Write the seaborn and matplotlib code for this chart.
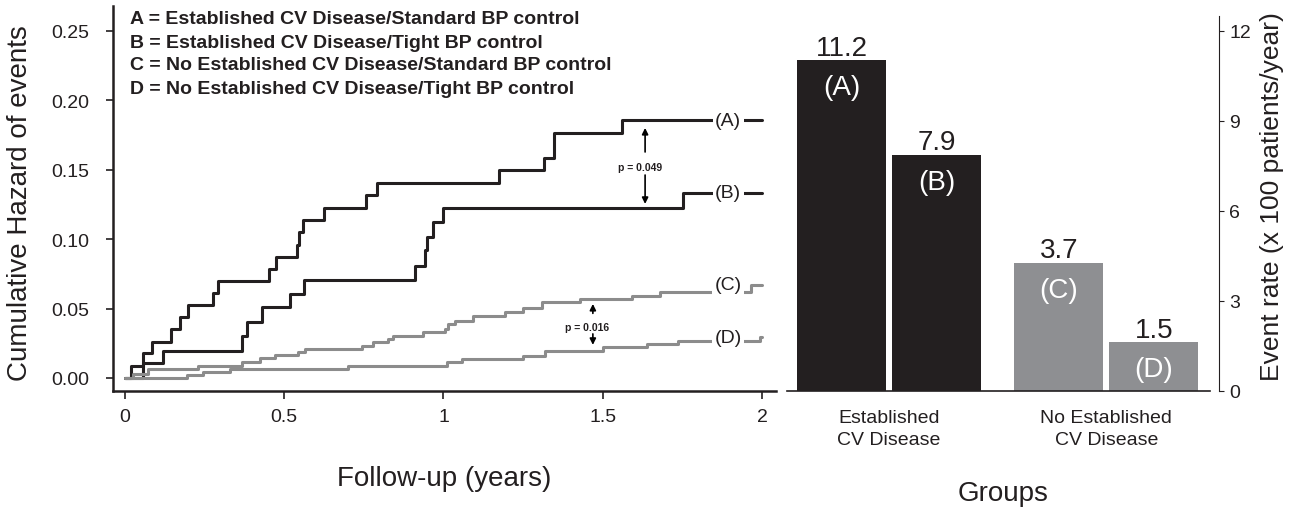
import numpy as np
import pandas as pd
import seaborn as sns
import matplotlib.pyplot as plt

# cumulative hazard step curves (years, hazard)
a_t = [0, 0.018, 0.058, 0.086, 0.144, 0.173, 0.197, 0.275, 0.293, 0.452, 0.473,
       0.539, 0.546, 0.560, 0.626, 0.756, 0.791, 1.174, 1.317, 1.347, 1.559, 2.0]
a_h = [0, 0.0089, 0.018, 0.0262, 0.035, 0.0439, 0.0526, 0.0612, 0.070, 0.0785, 0.0874,
       0.096, 0.1054, 0.1135, 0.1224, 0.1318, 0.1401, 0.1497, 0.1582, 0.1766, 0.1857, 0.1857]
b_t = [0, 0.058, 0.120, 0.368, 0.384, 0.429, 0.518, 0.561, 0.910, 0.942, 0.949,
       0.968, 1.000, 1.753, 2.0]
b_h = [0, 0.0106, 0.0197, 0.0305, 0.040, 0.0509, 0.0605, 0.0708, 0.0809, 0.0919, 0.1013,
       0.1121, 0.1224, 0.1332, 0.1332]
c_t = [0, 0.026, 0.073, 0.230, 0.366, 0.424, 0.471, 0.544, 0.565, 0.743, 0.780, 0.827,
       0.843, 0.937, 1.005, 1.015, 1.036, 1.094, 1.193, 1.251, 1.308, 1.429, 1.591,
       1.680, 1.964, 2.0]
c_h = [0, 0.003, 0.0065, 0.0089, 0.0117, 0.0142, 0.0166, 0.019, 0.0209, 0.0233, 0.0257,
       0.0281, 0.0305, 0.0329, 0.0353, 0.0389, 0.0413, 0.0449, 0.0473, 0.0502, 0.0545,
       0.0569, 0.0588, 0.0617, 0.0672, 0.0672]
d_t = [0, 0.194, 0.246, 0.330, 0.701, 1.010, 1.057, 1.251, 1.319, 1.502, 1.638,
       1.737, 1.995, 2.0]
d_h = [0, 0.0022, 0.0041, 0.0065, 0.0089, 0.0113, 0.0137, 0.016, 0.0197, 0.0221,
       0.0245, 0.0269, 0.0293, 0.0293]

curve_names = ['A', 'B', 'C', 'D']
legend_lines = ['A = Established CV Disease/Standard BP control',
                'B = Established CV Disease/Tight BP control',
                'C = No Established CV Disease/Standard BP control',
                'D = No Established CV Disease/Tight BP control']

# bar chart
groups = ['Established\nCV Disease', 'Established\nCV Disease',
          'No Established\nCV Disease', 'No Established\nCV Disease']
bp_control = ['Standard', 'Tight', 'Standard', 'Tight']
bar_heights = [11.03, 7.87, 4.27, 1.63]
bar_values = ['11.2', '7.9', '3.7', '1.5']
bar_letters = ['(A)', '(B)', '(C)', '(D)']

DARK = '#231f20'
GREY_LINE = '#8c8c8c'
GREY_BAR = '#8e8f92'

sns.set_theme(style='white')
plt.rcParams['font.family'] = ['Liberation Sans', 'DejaVu Sans']
plt.rcParams['text.color'] = DARK
plt.rcParams['axes.labelcolor'] = DARK
plt.rcParams['xtick.color'] = DARK
plt.rcParams['ytick.color'] = DARK

fig = plt.figure(figsize=(12.93, 5.10), dpi=100)
W, H = 1293, 510

# ---------- left: cumulative hazard ----------
ax1 = fig.add_axes([113 / W, 1 - 392 / H, 663 / W, 385 / H])
df = pd.concat([
    pd.DataFrame({'t': t, 'h': h, 'curve': n})
    for t, h, n in zip([a_t, b_t, c_t, d_t], [a_h, b_h, c_h, d_h], curve_names)
])
pal = {'A': DARK, 'B': DARK, 'C': GREY_LINE, 'D': GREY_LINE}
sns.lineplot(data=df, x='t', y='h', hue='curve', palette=pal, estimator=None,
             sort=False, errorbar=None, legend=False, drawstyle='steps-post',
             lw=2.2, ax=ax1)

ax1.set_xlim(-0.0377, 2.044)
ax1.set_ylim(-0.0094, 0.2678)
ax1.set_xticks([0, 0.5, 1, 1.5, 2])
ax1.set_xticklabels(['0', '0.5', '1', '1.5', '2'])
ax1.set_yticks([0, 0.05, 0.10, 0.15, 0.20, 0.25])
ax1.set_yticklabels(['0.00', '0.05', '0.10', '0.15', '0.20', '0.25'])
ax1.tick_params(axis='x', direction='out', length=6, width=1.2, pad=6, labelsize=14, bottom=True)
ax1.tick_params(axis='y', direction='out', length=5, width=1.2, pad=12, labelsize=14, left=True)
ax1.set_xlabel('')
ax1.set_ylabel('')
for s in ['top', 'right']:
    ax1.spines[s].set_visible(False)
for s in ['left', 'bottom']:
    ax1.spines[s].set_color(DARK)
    ax1.spines[s].set_linewidth(1.8)

# curve labels with white background hiding the line
end_h = [a_h[-1], b_h[-1], c_h[-2], d_h[-2]]
for n, hv in zip(curve_names, end_h):
    ax1.text(1.894, hv, '(' + n + ')', fontsize=14, ha='center', va='center',
             bbox=dict(boxstyle='square,pad=0.12', fc='white', ec='none'), zorder=5)

for i, line in enumerate(legend_lines):
    fig.text(130 / W, 1 - (20 + 23 * i) / H, line, fontsize=14, fontweight='bold',
             ha='left', va='center')

# p-value arrows
arw = dict(arrowstyle='-|>', color='black', lw=1.2, mutation_scale=9, shrinkA=0, shrinkB=0)
ax1.text(1.617, 0.1519, 'p = 0.049', fontsize=7.5, fontweight='bold', ha='center', va='center')
ax1.annotate('', xy=(1.633, 0.180), xytext=(1.633, 0.1627), arrowprops=arw)
ax1.annotate('', xy=(1.633, 0.1253), xytext=(1.633, 0.1461), arrowprops=arw)
ax1.text(1.451, 0.0367, 'p = 0.016', fontsize=7.5, fontweight='bold', ha='center', va='center')
ax1.annotate('', xy=(1.469, 0.0533), xytext=(1.469, 0.0465), arrowprops=arw)
ax1.annotate('', xy=(1.469, 0.0238), xytext=(1.469, 0.0317), arrowprops=arw)

fig.text(20 / W, 1 - 203 / H, 'Cumulative Hazard of events', fontsize=20,
         rotation=90, ha='center', va='center')
fig.text(444 / W, 1 - 479 / H, 'Follow-up (years)', fontsize=20, ha='center', va='center')

# ---------- right: event rates ----------
ax2 = fig.add_axes([787 / W, 1 - 392 / H, (1219 - 787) / W, (392 - 17) / H])
bdf = pd.DataFrame({'group': groups, 'bp': bp_control, 'rate': bar_heights})
sns.barplot(data=bdf, x='group', y='rate', hue='bp', hue_order=['Standard', 'Tight'],
            width=0.875, gap=0.063, saturation=1, linewidth=0, legend=False,
            palette=['black', 'black'], ax=ax2)

bars = sorted(ax2.patches, key=lambda p: p.get_x())
for p, val, let in zip(bars, bar_values, bar_letters):
    cx = p.get_x() + p.get_width() / 2
    top = p.get_height()
    p.set_facecolor(DARK if cx < 0.5 else GREY_BAR)
    p.set_edgecolor('none')
    ax2.text(cx, top - 0.02, val, fontsize=20, ha='center', va='bottom')
    ax2.text(cx, top - 0.9, let, fontsize=20, color='white', ha='center', va='center')

ax2.set_xlim(-0.4695, 1.519)
ax2.set_ylim(0, 12.5)
ax2.set_yticks([0, 3, 6, 9, 12])
ax2.yaxis.tick_right()
ax2.tick_params(axis='y', direction='out', length=3.5, width=0.8, pad=4, labelsize=14,
                right=True, left=False)
ax2.tick_params(axis='x', length=0, pad=13, labelsize=14)
for lab in ax2.get_xticklabels():
    lab.set_linespacing(1.35)
ax2.set_xlabel('')
ax2.set_ylabel('')
for s in ['top', 'left']:
    ax2.spines[s].set_visible(False)
ax2.spines['right'].set_color(DARK)
ax2.spines['right'].set_linewidth(0.8)
ax2.spines['bottom'].set_color(DARK)
ax2.spines['bottom'].set_linewidth(1.2)
ax2.spines['bottom'].set_bounds(-0.4695, 1.4776)

fig.text(1003 / W, 1 - 494 / H, 'Groups', fontsize=20, ha='center', va='center')
fig.text(1272 / W, 1 - 197 / H, 'Event rate (x 100 patients/year)', fontsize=19,
         rotation=90, ha='center', va='center')

fig.savefig('out.png', dpi=100)
